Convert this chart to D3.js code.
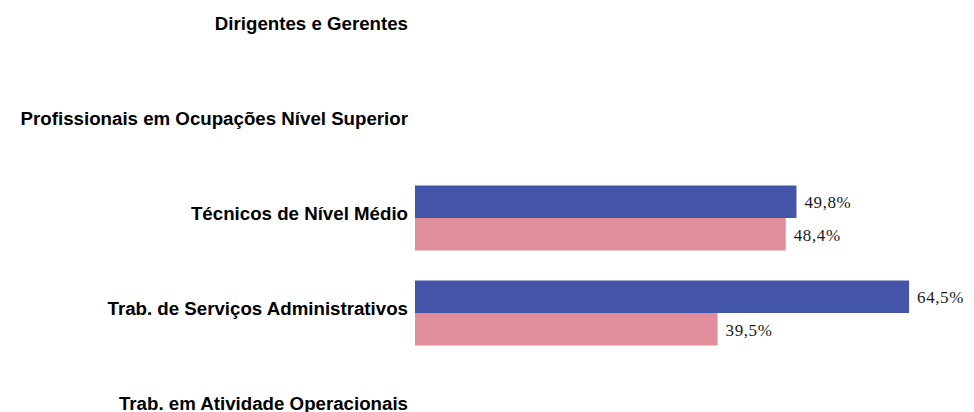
<!DOCTYPE html>
<html>
<head>
<meta charset="utf-8">
<script src="https://cdn.jsdelivr.net/npm/d3@7"></script>
<style>
  body { margin: 0; background: #fff; }
  .tick text { font-family: "Liberation Sans", Arial, sans-serif; font-weight: bold; font-size: 18.7px; fill: #000; }
  .value { font-family: "Liberation Serif", "DejaVu Serif", serif; font-size: 17px; letter-spacing: 0.6px; fill: #1a1a1a; }
</style>
</head>
<body>
<svg width="974" height="412"></svg>
<script>
const categories = [
    "Dirigentes e Gerentes",
    "Profissionais em Ocupações Nível Superior",
    "Técnicos de Nível Médio",
    "Trab. de Serviços Administrativos",
    "Trab. em Atividade Operacionais"
];
const seriesNames = ["serie1", "serie2"];
const serie1 = [null, null, 49.8, 64.5, null];
const serie2 = [null, null, 48.4, 39.5, null];
const colors = ["#4454a8", "#e08e9b"];

const svg = d3.select("svg");
const x0 = 415;

// horizontal value scale, ~7.66 px per percent
const x = d3.scaleLinear()
    .domain([0, 100])
    .range([x0, x0 + 766]);

const y = d3.scaleBand()
    .domain(categories)
    .range([-19.5, 455.5])
    .paddingInner(30 / 95)
    .paddingOuter(15 / 95);

const ySub = d3.scaleBand()
    .domain(seriesNames)
    .range([0, y.bandwidth()]);

// category labels
const axis = svg.append("g")
    .attr("transform", `translate(${x0},0)`)
    .call(d3.axisLeft(y).tickSize(0).tickPadding(7));
axis.select(".domain").remove();
axis.selectAll(".tick text").attr("dy", "0.08em");

const rows = [];
categories.forEach((c, i) => {
    [serie1, serie2].forEach((s, j) => {
        if (s[i] != null) rows.push({ cat: c, series: seriesNames[j], value: s[i], color: colors[j] });
    });
});

svg.append("g")
    .selectAll("rect")
    .data(rows)
    .enter().append("rect")
    .attr("x", x(0))
    .attr("y", d => y(d.cat) + ySub(d.series))
    .attr("width", d => x(d.value) - x(0))
    .attr("height", ySub.bandwidth())
    .attr("fill", d => d.color);

svg.append("g")
    .selectAll("text")
    .data(rows)
    .enter().append("text")
    .attr("class", "value")
    .attr("x", d => x(d.value) + 8)
    .attr("y", d => y(d.cat) + ySub(d.series) + ySub.bandwidth() / 2)
    .attr("dy", "0.38em")
    .text(d => d.value.toFixed(1).replace(".", ",") + "%");
</script>
</body>
</html>
